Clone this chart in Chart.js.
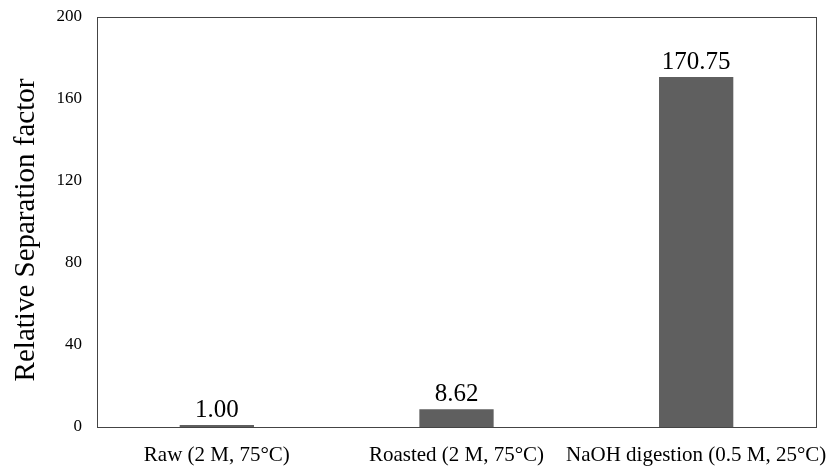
<!DOCTYPE html>
<html>
<head>
<meta charset="utf-8">
<script src="https://cdn.jsdelivr.net/npm/chart.js@4.4.0/dist/chart.umd.min.js"></script>
<style>
  body { margin: 0; background: #fff; }
  #wrap { width: 838px; height: 474px; }
</style>
</head>
<body>
<div id="wrap"><canvas id="chart"></canvas></div>
<script>
const categories = ['Raw (2 M, 75°C)', 'Roasted (2 M, 75°C)', 'NaOH digestion (0.5 M, 25°C)'];
const values = [1.00, 8.62, 170.75];
const yTicks = [0, 40, 80, 120, 160, 200];
const yTitle = 'Relative Separation factor';

const serif = "'Liberation Serif', 'Times New Roman', serif";

// box round the plot area
const frame = {
    id: 'frame',
    afterDatasetsDraw(chart) {
        const a = chart.chartArea;
        const ctx = chart.ctx;
        ctx.save();
        ctx.strokeStyle = '#444';
        ctx.lineWidth = 1;
        ctx.strokeRect(Math.round(a.left) + 0.5, Math.round(a.top) + 0.5,
            Math.round(a.right - a.left), Math.round(a.bottom - a.top));
        ctx.restore();
    }
};

// value printed above each bar
const barLabels = {
    id: 'barLabels',
    afterDatasetsDraw(chart) {
        const ctx = chart.ctx;
        const meta = chart.getDatasetMeta(0);
        ctx.save();
        ctx.font = '25px ' + serif;
        ctx.fillStyle = '#000';
        ctx.textAlign = 'center';
        ctx.textBaseline = 'bottom';
        meta.data.forEach((bar, i) => {
            ctx.fillText(values[i].toFixed(2), bar.x, bar.y - 2);
        });
        ctx.restore();
    }
};

// y title, sits a bit below the axis middle like the original
const sideTitle = {
    id: 'sideTitle',
    afterDraw(chart) {
        const ctx = chart.ctx;
        const a = chart.chartArea;
        ctx.save();
        ctx.translate(26, (a.top + a.bottom) / 2 + 8);
        ctx.rotate(-Math.PI / 2);
        ctx.font = '29px ' + serif;
        ctx.fillStyle = '#000';
        ctx.textAlign = 'center';
        ctx.textBaseline = 'middle';
        ctx.fillText(yTitle, 0, 0);
        ctx.restore();
    }
};

const ctx = document.getElementById('chart');
new Chart(ctx, {
    type: 'bar',
    data: {
        labels: categories,
        datasets: [{
            data: values,
            backgroundColor: '#5f5f5f',
            borderWidth: 0,
            categoryPercentage: 1,
            barPercentage: 0.31
        }]
    },
    options: {
        responsive: true,
        maintainAspectRatio: false,
        animation: false,
        layout: { padding: { top: 17, right: 22, bottom: 0, left: 0 } },
        plugins: {
            legend: { display: false },
            tooltip: { enabled: false }
        },
        scales: {
            x: {
                afterFit(scale) {
                    scale.height = 47;
                    scale.paddingLeft = 0;
                    scale.paddingRight = 0;
                },
                grid: { display: false, drawTicks: false },
                border: { display: false },
                ticks: {
                    color: '#000',
                    font: { family: serif, size: 21 },
                    padding: 16,
                    maxRotation: 0,
                    autoSkip: false
                }
            },
            y: {
                min: 0,
                max: 200,
                afterFit(scale) {
                    scale.width = 97;
                    scale.paddingTop = 0;
                    scale.paddingBottom = 0;
                },
                afterBuildTicks(scale) { scale.ticks = yTicks.map(v => ({ value: v })); },
                grid: { display: false, drawTicks: false },
                border: { display: false },
                ticks: {
                    color: '#000',
                    font: { family: serif, size: 17 },
                    padding: 15
                }
            }
        }
    },
    plugins: [frame, barLabels, sideTitle]
});
</script>
</body>
</html>
